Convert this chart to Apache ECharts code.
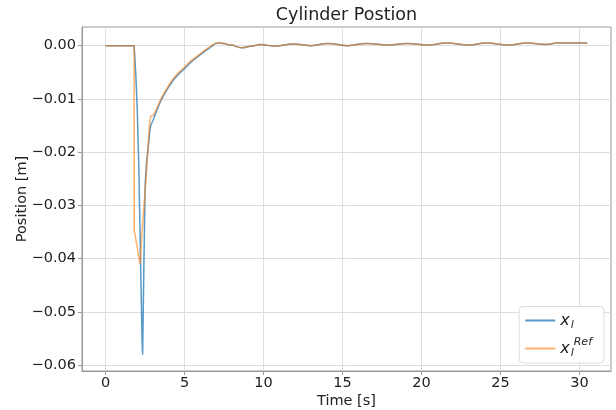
<!DOCTYPE html>
<html>
<head>
<meta charset="utf-8">
<script src="https://cdn.jsdelivr.net/npm/echarts@6/dist/echarts.min.js"></script>
<style>
    html, body { margin: 0; padding: 0; background: #fff; }
    #chart { width: 616px; height: 410px; }
</style>
</head>
<body>
<div id="chart"></div>
<script>
    // 时间 [s] / 位置 [m]
    const timeL = [0, 1.8, 1.9, 2.0, 2.1, 2.2, 2.3, 2.34, 2.42, 2.5, 2.6, 2.7, 2.8, 2.85, 2.9, 3.0, 3.2, 3.5, 3.8, 4.0, 4.3, 4.6, 5.0, 5.3, 5.6, 6.0, 6.3, 6.6, 6.9];
    const posL = [0, 0, -0.005, -0.012, -0.023, -0.039, -0.055, -0.058, -0.041, -0.026, -0.0215, -0.019, -0.0158, -0.0150, -0.0148, -0.0140, -0.0124, -0.0103, -0.0087, -0.0077, -0.0064, -0.0054, -0.0043, -0.0034, -0.0026, -0.0017, -0.0010, -0.0004, 0.0003];

    const timeRef = [0, 1.8, 1.81, 1.86, 2.17, 2.35, 2.55, 2.7, 2.76, 2.82, 2.87, 2.95, 3.0, 3.2, 3.5, 3.8, 4.0, 4.3, 4.6, 5.0, 5.3, 5.6, 6.0, 6.3, 6.6, 6.9];
    const posRef = [0, 0, -0.035, -0.0355, -0.041, -0.033, -0.0252, -0.018, -0.0152, -0.0138, -0.0132, -0.0134, -0.0131, -0.0120, -0.0100, -0.0084, -0.0074, -0.0061, -0.0051, -0.0040, -0.0031, -0.0024, -0.0015, -0.0008, -0.0002, 0.0004];

    // 稳态部分（两条曲线重合）
    const timeTail = [6.9, 7.2, 7.5, 7.9, 8.6, 9.2, 9.8, 10.7, 11.9, 13.0, 14.1, 15.3, 16.5, 17.9, 19.1, 20.4, 21.6, 23.0, 24.1, 25.5, 26.7, 27.9, 28.6, 30.5];
    const posTail = [0.0004, 0.0005, 0.0004, 0.0001, -0.0004, -0.0001, 0.0002, -0.0001, 0.0003, 0.0000, 0.0004, 0.0000, 0.0004, 0.0001, 0.0004, 0.0001, 0.0005, 0.0001, 0.0005, 0.0001, 0.0005, 0.0002, 0.0005, 0.0005];

    const xTicks = [0, 5, 10, 15, 20, 25, 30];
    const yTicks = [-0.06, -0.05, -0.04, -0.03, -0.02, -0.01, 0];

    const font = 'DejaVu Sans';
    const axisColor = '#999';
    const gridColor = '#dedede';
    const blue = 'rgba(31,119,180,0.75)';
    const orange = 'rgba(255,127,14,0.6)';

    function zip(ts, ys) {
        let out = [];
        ts.forEach((t, i) => out.push([t, ys[i]]));
        return out;
    }

    function lineSeries(name, color, data, smooth) {
        return {
            name: name,
            type: 'line',
            showSymbol: false,
            symbol: 'none',
            smooth: smooth,
            smoothMonotone: 'x',
            color: color,
            lineStyle: { width: 1.5, color: color },
            data: data
        };
    }

    let myChart = echarts.init(document.getElementById('chart'));
    let option = {
        animation: false,
        backgroundColor: '#fff',
        textStyle: { fontFamily: font },
        title: {
            text: 'Cylinder Postion',
            left: 346.5,
            textAlign: 'center',
            top: 6,
            padding: 0,
            textStyle: { fontFamily: font, fontSize: 17.5, fontWeight: 'normal', color: '#222' }
        },
        grid: {
            left: 82, right: 5, top: 27, bottom: 39,
            containLabel: false,
            outerBoundsMode: 'none',
            show: true,
            borderColor: axisColor,
            borderWidth: 1
        },
        legend: {
            orient: 'vertical',
            right: 12,
            bottom: 47,
            padding: [6, 12, 4, 6],
            itemGap: 6,
            itemWidth: 30,
            itemHeight: 2,
            icon: 'rect',
            backgroundColor: '#fff',
            borderColor: '#dcdcdc',
            borderWidth: 1,
            borderRadius: 4,
            data: ['xl', 'xlRef'],
            formatter: function (name) {
                return name === 'xl' ? '{x|x}{sub|l}' : '{x|x}{sub|l}{sup|Ref}';
            },
            textStyle: {
                color: '#222',
                rich: {
                    x: { fontFamily: font, fontStyle: 'italic', fontSize: 16, color: '#222' },
                    sub: { fontFamily: font, fontStyle: 'italic', fontSize: 11, color: '#222', padding: [10, 0, 0, 1] },
                    sup: { fontFamily: font, fontStyle: 'italic', fontSize: 11, color: '#222', padding: [0, 0, 12, 0] }
                }
            }
        },
        xAxis: {
            type: 'value',
            min: -1.5,
            max: 32,
            name: 'Time [s]',
            nameLocation: 'middle',
            nameGap: 23,
            nameMoveOverlap: false,
            nameTextStyle: { fontFamily: font, fontSize: 14.5, color: '#222' },
            axisLine: { show: true, onZero: false, lineStyle: { color: axisColor } },
            axisTick: { show: true, length: 4, customValues: xTicks, lineStyle: { color: axisColor } },
            axisLabel: {
                customValues: xTicks,
                fontFamily: font, fontSize: 14.5, color: '#222', margin: 5,
                formatter: v => String(v)
            },
            splitLine: { show: true, lineStyle: { color: gridColor, width: 1 } }
        },
        yAxis: {
            type: 'value',
            min: -0.0611,
            max: 0.0035,
            name: 'Position [m]',
            nameLocation: 'middle',
            nameGap: 52,
            nameMoveOverlap: false,
            nameTextStyle: { fontFamily: font, fontSize: 14.5, color: '#222' },
            axisLine: { show: true, onZero: false, lineStyle: { color: axisColor } },
            axisTick: { show: true, length: 4, customValues: yTicks, lineStyle: { color: axisColor } },
            axisLabel: {
                customValues: yTicks,
                fontFamily: font, fontSize: 14.5, color: '#222', margin: 6,
                formatter: v => Math.abs(v) < 1e-9 ? '0.00' : v.toFixed(2).replace('-', '\u2212')
            },
            splitLine: { show: true, lineStyle: { color: gridColor, width: 1 } }
        },
        series: [
            lineSeries('xl', blue, zip(timeL, posL), false),
            lineSeries('xl-tail', blue, zip(timeTail, posTail), 0.5),
            lineSeries('xlRef', orange, zip(timeRef, posRef), false),
            lineSeries('xlRef-tail', orange, zip(timeTail, posTail), 0.5)
        ]
    };
    myChart.setOption(option);
</script>
</body>
</html>
